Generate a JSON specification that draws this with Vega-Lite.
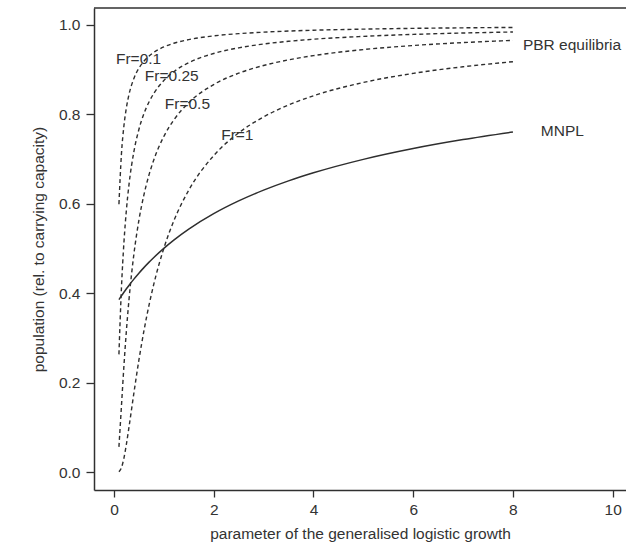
{
  "$schema": "https://vega.github.io/schema/vega-lite/v6.json",
  "autosize": "none",
  "padding": {"left": 94, "top": 8, "right": 0, "bottom": 53},
  "width": 532,
  "height": 482,
  "background": "white",
  "config": {
    "view": {"stroke": null},
    "font": "Liberation Sans",
    "axis": {"grid": false, "domain": true, "domainColor": "#303030", "domainWidth": 1.5, "tickColor": "#303030", "tickWidth": 1.3, "labelColor": "#333333", "titleColor": "#333333", "labelFont": "Liberation Sans", "titleFont": "Liberation Sans", "labelFontSize": 15.5, "titleFontSize": 15.5, "titleFontWeight": "normal"}
  },
  "datasets": {
    "curves": [
      {"series": "MNPL", "x": 0.1, "y": 0.3855}, {"series": "MNPL", "x": 0.15, "y": 0.3939}, {"series": "MNPL", "x": 0.2, "y": 0.4019}, {"series": "MNPL", "x": 0.25, "y": 0.4096}, {"series": "MNPL", "x": 0.3, "y": 0.4171}, {"series": "MNPL", "x": 0.4, "y": 0.4312}, {"series": "MNPL", "x": 0.5, "y": 0.4444}, {"series": "MNPL", "x": 0.6, "y": 0.4569}, {"series": "MNPL", "x": 0.7, "y": 0.4686}, {"series": "MNPL", "x": 0.8, "y": 0.4796}, {"series": "MNPL", "x": 1.0, "y": 0.5}, {"series": "MNPL", "x": 1.2, "y": 0.5184}, {"series": "MNPL", "x": 1.5, "y": 0.5429}, {"series": "MNPL", "x": 2, "y": 0.5774}, {"series": "MNPL", "x": 2.5, "y": 0.6059}, {"series": "MNPL", "x": 3, "y": 0.63}, {"series": "MNPL", "x": 3.5, "y": 0.6507}, {"series": "MNPL", "x": 4, "y": 0.6687}, {"series": "MNPL", "x": 5, "y": 0.6988}, {"series": "MNPL", "x": 6, "y": 0.723}, {"series": "MNPL", "x": 7, "y": 0.743}, {"series": "MNPL", "x": 8, "y": 0.7598},

      {"series": "Fr=0.1", "x": 0.1, "y": 0.5987}, {"series": "Fr=0.1", "x": 0.15, "y": 0.7104}, {"series": "Fr=0.1", "x": 0.2, "y": 0.7738}, {"series": "Fr=0.1", "x": 0.25, "y": 0.8145}, {"series": "Fr=0.1", "x": 0.3, "y": 0.8428}, {"series": "Fr=0.1", "x": 0.4, "y": 0.8797}, {"series": "Fr=0.1", "x": 0.5, "y": 0.9025}, {"series": "Fr=0.1", "x": 0.6, "y": 0.9181}, {"series": "Fr=0.1", "x": 0.7, "y": 0.9293}, {"series": "Fr=0.1", "x": 0.8, "y": 0.9379}, {"series": "Fr=0.1", "x": 1.0, "y": 0.95}, {"series": "Fr=0.1", "x": 1.2, "y": 0.9582}, {"series": "Fr=0.1", "x": 1.5, "y": 0.9664}, {"series": "Fr=0.1", "x": 2, "y": 0.9747}, {"series": "Fr=0.1", "x": 2.5, "y": 0.9797}, {"series": "Fr=0.1", "x": 3, "y": 0.983}, {"series": "Fr=0.1", "x": 3.5, "y": 0.9855}, {"series": "Fr=0.1", "x": 4, "y": 0.9873}, {"series": "Fr=0.1", "x": 5, "y": 0.9898}, {"series": "Fr=0.1", "x": 6, "y": 0.9915}, {"series": "Fr=0.1", "x": 7, "y": 0.9927}, {"series": "Fr=0.1", "x": 8, "y": 0.9936},

      {"series": "Fr=0.25", "x": 0.1, "y": 0.2631}, {"series": "Fr=0.25", "x": 0.15, "y": 0.4106}, {"series": "Fr=0.25", "x": 0.2, "y": 0.5129}, {"series": "Fr=0.25", "x": 0.25, "y": 0.5862}, {"series": "Fr=0.25", "x": 0.3, "y": 0.6408}, {"series": "Fr=0.25", "x": 0.4, "y": 0.7162}, {"series": "Fr=0.25", "x": 0.5, "y": 0.7656}, {"series": "Fr=0.25", "x": 0.6, "y": 0.8005}, {"series": "Fr=0.25", "x": 0.7, "y": 0.8263}, {"series": "Fr=0.25", "x": 0.8, "y": 0.8463}, {"series": "Fr=0.25", "x": 1.0, "y": 0.875}, {"series": "Fr=0.25", "x": 1.2, "y": 0.8947}, {"series": "Fr=0.25", "x": 1.5, "y": 0.9148}, {"series": "Fr=0.25", "x": 2, "y": 0.9354}, {"series": "Fr=0.25", "x": 2.5, "y": 0.948}, {"series": "Fr=0.25", "x": 3, "y": 0.9565}, {"series": "Fr=0.25", "x": 3.5, "y": 0.9626}, {"series": "Fr=0.25", "x": 4, "y": 0.9672}, {"series": "Fr=0.25", "x": 5, "y": 0.9736}, {"series": "Fr=0.25", "x": 6, "y": 0.978}, {"series": "Fr=0.25", "x": 7, "y": 0.9811}, {"series": "Fr=0.25", "x": 8, "y": 0.9834},

      {"series": "Fr=0.5", "x": 0.1, "y": 0.0563}, {"series": "Fr=0.5", "x": 0.15, "y": 0.1469}, {"series": "Fr=0.5", "x": 0.2, "y": 0.2373}, {"series": "Fr=0.5", "x": 0.25, "y": 0.3164}, {"series": "Fr=0.5", "x": 0.3, "y": 0.3833}, {"series": "Fr=0.5", "x": 0.4, "y": 0.4871}, {"series": "Fr=0.5", "x": 0.5, "y": 0.5625}, {"series": "Fr=0.5", "x": 0.6, "y": 0.6191}, {"series": "Fr=0.5", "x": 0.7, "y": 0.663}, {"series": "Fr=0.5", "x": 0.8, "y": 0.698}, {"series": "Fr=0.5", "x": 1.0, "y": 0.75}, {"series": "Fr=0.5", "x": 1.2, "y": 0.7868}, {"series": "Fr=0.5", "x": 1.5, "y": 0.8255}, {"series": "Fr=0.5", "x": 2, "y": 0.866}, {"series": "Fr=0.5", "x": 2.5, "y": 0.8913}, {"series": "Fr=0.5", "x": 3, "y": 0.9086}, {"series": "Fr=0.5", "x": 3.5, "y": 0.9211}, {"series": "Fr=0.5", "x": 4, "y": 0.9306}, {"series": "Fr=0.5", "x": 5, "y": 0.9441}, {"series": "Fr=0.5", "x": 6, "y": 0.9532}, {"series": "Fr=0.5", "x": 7, "y": 0.9597}, {"series": "Fr=0.5", "x": 8, "y": 0.9647},

      {"series": "Fr=1", "x": 0.1, "y": 0.001}, {"series": "Fr=1", "x": 0.15, "y": 0.0098}, {"series": "Fr=1", "x": 0.2, "y": 0.0313}, {"series": "Fr=1", "x": 0.25, "y": 0.0625}, {"series": "Fr=1", "x": 0.3, "y": 0.0992}, {"series": "Fr=1", "x": 0.4, "y": 0.1768}, {"series": "Fr=1", "x": 0.5, "y": 0.25}, {"series": "Fr=1", "x": 0.6, "y": 0.315}, {"series": "Fr=1", "x": 0.7, "y": 0.3715}, {"series": "Fr=1", "x": 0.8, "y": 0.4204}, {"series": "Fr=1", "x": 1.0, "y": 0.5}, {"series": "Fr=1", "x": 1.2, "y": 0.5612}, {"series": "Fr=1", "x": 1.5, "y": 0.63}, {"series": "Fr=1", "x": 2, "y": 0.7071}, {"series": "Fr=1", "x": 2.5, "y": 0.7579}, {"series": "Fr=1", "x": 3, "y": 0.7937}, {"series": "Fr=1", "x": 3.5, "y": 0.8203}, {"series": "Fr=1", "x": 4, "y": 0.8409}, {"series": "Fr=1", "x": 5, "y": 0.8706}, {"series": "Fr=1", "x": 6, "y": 0.8909}, {"series": "Fr=1", "x": 7, "y": 0.9057}, {"series": "Fr=1", "x": 8, "y": 0.917}
    ],
    "labels": [
      {"label": "Fr=0.1", "x": 0.04, "y": 0.924},
      {"label": "Fr=0.25", "x": 0.62, "y": 0.884},
      {"label": "Fr=0.5", "x": 1.02, "y": 0.823},
      {"label": "Fr=1", "x": 2.15, "y": 0.754},
      {"label": "PBR equilibria", "x": 8.2, "y": 0.955},
      {"label": "MNPL", "x": 8.56, "y": 0.763}
    ]
  },
  "layer": [
    {
      "data": {"name": "curves"},
      "transform": [{"filter": "datum.series != 'MNPL'"}],
      "mark": {"type": "line", "color": "#2e2e2e", "strokeWidth": 1.4, "strokeDash": [4, 3], "interpolate": "monotone"},
      "encoding": {
        "x": {"field": "x", "type": "quantitative", "scale": {"domain": [-0.4, 10.267], "nice": false, "zero": false},
          "axis": {"values": [0, 2, 4, 6, 8, 10], "title": "parameter of the generalised logistic growth", "tickSize": 7, "labelPadding": 5, "titlePadding": 9, "labelFlush": false}},
        "y": {"field": "y", "type": "quantitative", "scale": {"domain": [-0.04, 1.037], "nice": false, "zero": false},
          "axis": {"values": [0, 0.2, 0.4, 0.6, 0.8, 1.0], "format": ".1f", "title": "population (rel. to carrying capacity)", "tickSize": 8, "labelPadding": 6, "titlePadding": 12, "labelFlush": false}},
        "detail": {"field": "series"}
      }
    },
    {
      "data": {"name": "curves"},
      "transform": [{"filter": "datum.series == 'MNPL'"}],
      "mark": {"type": "line", "color": "#2e2e2e", "strokeWidth": 1.5, "interpolate": "monotone"},
      "encoding": {
        "x": {"field": "x", "type": "quantitative"},
        "y": {"field": "y", "type": "quantitative"}
      }
    },
    {
      "data": {"name": "labels"},
      "mark": {"type": "text", "align": "left", "baseline": "middle", "fontSize": 15.5, "color": "#333", "font": "Liberation Sans"},
      "encoding": {
        "x": {"field": "x", "type": "quantitative"},
        "y": {"field": "y", "type": "quantitative"},
        "text": {"field": "label"}
      }
    },
    {
      "data": {"values": [{}]},
      "mark": {"type": "rule", "color": "#303030", "strokeWidth": 1.5},
      "encoding": {"y": {"datum": 1.037, "type": "quantitative"}}
    }
  ]
}
